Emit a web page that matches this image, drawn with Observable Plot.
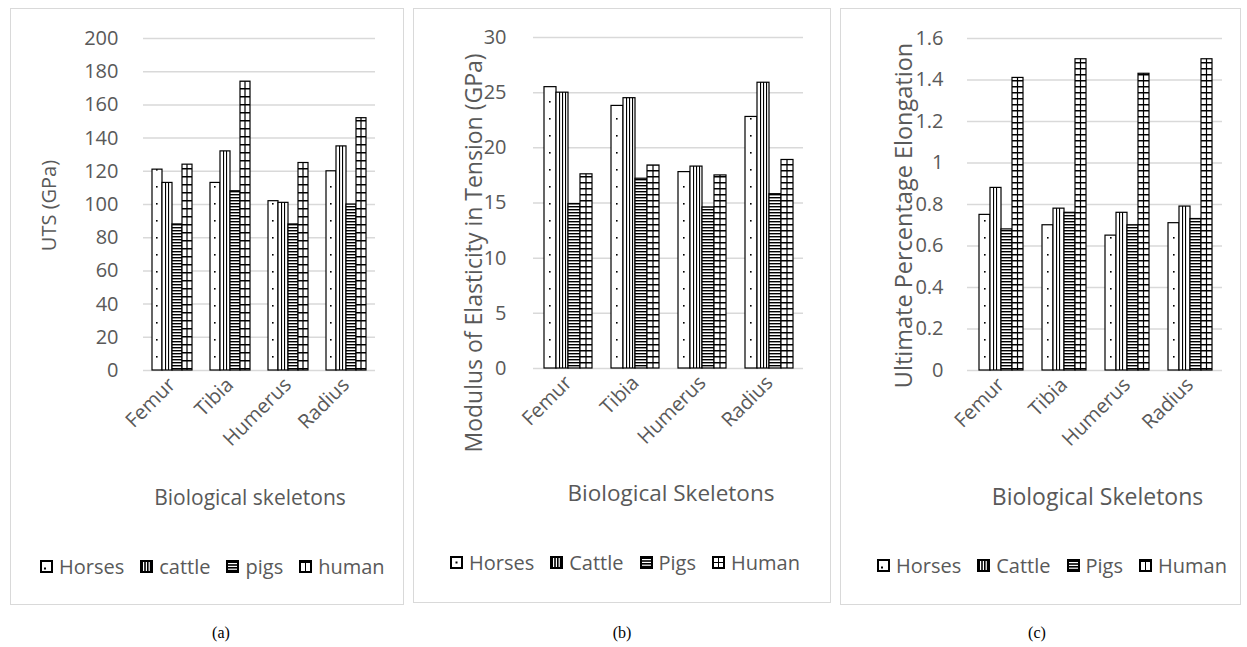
<!DOCTYPE html>
<html><head><meta charset="utf-8">
<script src="https://cdn.jsdelivr.net/npm/d3@7"></script>
<script src="https://cdn.jsdelivr.net/npm/@observablehq/plot@0.6"></script>
<style>
body{margin:0;background:#fff;}
#root{position:relative;width:1247px;height:647px;overflow:hidden;font-family:"Open Sans",sans-serif;}
.panel{position:absolute;border:1px solid #d9d9d9;box-sizing:border-box;}
.plotwrap{position:absolute;}
.legend{position:absolute;display:flex;align-items:center;font-size:20px;color:#595959;white-space:nowrap;font-family:"Open Sans",sans-serif;}
.legend .item{display:flex;align-items:center;margin-right:16px;}
.legend .item:last-child{margin-right:0;}
.legend svg{margin-right:6px;}
.cap{position:absolute;font-family:"Liberation Serif","Times New Roman",serif;font-size:16px;color:#000;transform:translateX(-50%);}
</style></head>
<body><div id="root"></div>
<script>
// ---- data ----
const bones = ["Femur", "Tibia", "Humerus", "Radius"];
const seriesKeys = ["Horses", "Cattle", "Pigs", "Human"];
const legendLabelsA = ["Horses", "cattle", "pigs", "human"];
const legendLabelsBC = ["Horses", "Cattle", "Pigs", "Human"];

const utsHorses = [121, 113, 102, 120];
const utsCattle = [113, 132, 101, 135];
const utsPigs = [88, 108, 88, 100];
const utsHuman = [124, 174, 125, 152];

const modHorses = [25.5, 23.8, 17.8, 22.8];
const modCattle = [25.0, 24.5, 18.3, 25.9];
const modPigs = [14.9, 17.2, 14.6, 15.8];
const modHuman = [17.6, 18.4, 17.5, 18.9];

const elHorses = [0.75, 0.70, 0.65, 0.71];
const elCattle = [0.88, 0.78, 0.76, 0.79];
const elPigs = [0.68, 0.76, 0.70, 0.73];
const elHuman = [1.41, 1.50, 1.43, 1.50];

const ticksA = [0, 20, 40, 60, 80, 100, 120, 140, 160, 180, 200];
const ticksB = [0, 5, 10, 15, 20, 25, 30];
const ticksC = [0, 0.2, 0.4, 0.6, 0.8, 1, 1.2, 1.4, 1.6];

const panels = [
  {id: "a", left: 10, top: 8, w: 393, h: 520, bw: 394, bh: 597, ml: 133, mr: 28, mt: 30, mb: 158, tp: 33,
   domain: [0, 200], ticks: ticksA, series: [utsHorses, utsCattle, utsPigs, utsHuman],
   ytitle: "UTS (GPa)", ytSize: 20, ytdx: -102, ytdy: 1, xtitle: "Biological skeletons", xtSize: 21, xtdx: -9, xtdy: 128,
   legend: legendLabelsA, legLeft: 40, legTop: 553, humanStyle: "cols", humanH: 8, cap: "(a)", capX: 221},
  {id: "b", left: 413, top: 8, w: 417, h: 520, bw: 418, bh: 595, ml: 120, mr: 27, mt: 29, mb: 160, tp: 38,
   domain: [0, 30], ticks: ticksB, series: [modHorses, modCattle, modPigs, modHuman],
   ytitle: "Modulus of Elasticity in Tension (GPa)", ytSize: 23, ytdx: -70, ytdy: 50, xtitle: "Biological Skeletons", xtSize: 22.5, xtdx: 2, xtdy: 125,
   legend: legendLabelsBC, legLeft: 450, legTop: 549, humanStyle: "grid", humanH: 6, cap: "(b)", capX: 622},
  {id: "c", left: 840, top: 8, w: 400, h: 520, bw: 401, bh: 597, ml: 127, mr: 18, mt: 30, mb: 158, tp: 35,
   domain: [0, 1.6], ticks: ticksC, series: [elHorses, elCattle, elPigs, elHuman],
   ytitle: "Ultimate Percentage Elongation", ytSize: 23.5, ytdx: -74, ytdy: 11, xtitle: "Biological Skeletons", xtSize: 23, xtdx: 2, xtdy: 127,
   legend: legendLabelsBC, legLeft: 877, legTop: 552, humanStyle: "cols", humanH: 6, cap: "(c)", capX: 1037}
];

const root = document.getElementById("root");

function buildPattern(defs, id, kind, x, w, p) {
  let h = kind === "Horses" ? 17 : kind === "Cattle" ? 4 : kind === "Pigs" ? 3 : p.humanH;
  const pat = defs.append("pattern").attr("id", id).attr("patternUnits", "userSpaceOnUse")
    .attr("x", x).attr("y", 0).attr("width", w).attr("height", h);
  pat.append("rect").attr("width", w).attr("height", h).attr("fill", "#fff");
  if (kind === "Horses") {
    pat.append("rect").attr("x", Math.round(w * 0.42)).attr("y", 8).attr("width", 1.6).attr("height", 1.6).attr("fill", "#000");
  } else if (kind === "Cattle") {
    for (let xx = 3; xx < w - 2; xx += 3) {
      pat.append("rect").attr("x", xx).attr("y", 0).attr("width", 1.1).attr("height", h).attr("fill", "#000");
    }
  } else if (kind === "Pigs") {
    pat.append("rect").attr("x", 0).attr("y", 0).attr("width", w).attr("height", 1.4).attr("fill", "#000");
  } else {
    pat.append("rect").attr("x", 0).attr("y", 0).attr("width", w).attr("height", 1.5).attr("fill", "#000");
    pat.append("rect").attr("x", w / 2 - 0.6).attr("y", 0).attr("width", 1.2).attr("height", h).attr("fill", "#000");
  }
}

function swatch(kind, p) {
  const s = d3.create("svg").attr("width", 13).attr("height", 13);
  if (kind === "Horses") {
    s.append("rect").attr("x", 1).attr("y", 1).attr("width", 11).attr("height", 11).attr("fill", "#fff").attr("stroke", "#000").attr("stroke-width", 2);
    if (p.id === "b") s.append("rect").attr("x", 5.5).attr("y", 5.5).attr("width", 2).attr("height", 2).attr("fill", "#000");
    else s.append("rect").attr("x", 4).attr("y", 7.5).attr("width", 2).attr("height", 2).attr("fill", "#000");
  } else if (kind === "Cattle") {
    s.append("rect").attr("x", 0).attr("y", 0).attr("width", 13).attr("height", 13).attr("fill", "#000");
    [3, 5.8, 8.6].forEach(xx => s.append("rect").attr("x", xx).attr("y", 2).attr("width", 1.2).attr("height", 9).attr("fill", "#fff"));
  } else if (kind === "Pigs") {
    s.append("rect").attr("x", 0).attr("y", 0).attr("width", 13).attr("height", 13).attr("fill", "#000");
    [3, 5.8, 8.6].forEach(yy => s.append("rect").attr("x", 2).attr("y", yy).attr("width", 9).attr("height", 1.2).attr("fill", "#fff"));
  } else {
    s.append("rect").attr("x", 0).attr("y", 0).attr("width", 13).attr("height", 13).attr("fill", "#000");
    if (p.humanStyle === "grid") {
      [[2,2],[7,2],[2,7],[7,7]].forEach(([xx,yy]) => s.append("rect").attr("x", xx).attr("y", yy).attr("width", 4).attr("height", 4).attr("fill", "#fff"));
    } else {
      [[2,3],[7,3]].forEach(([xx,yy]) => s.append("rect").attr("x", xx).attr("y", yy).attr("width", 4).attr("height", 8).attr("fill", "#fff"));
    }
  }
  return s.node();
}

panels.forEach(p => {
  const border = document.createElement("div");
  border.className = "panel";
  Object.assign(border.style, {left: p.left + "px", top: p.top + "px", width: p.bw + "px", height: p.bh + "px"});
  root.appendChild(border);

  const common = {
    width: p.w, height: p.h,
    marginLeft: p.ml, marginRight: p.mr, marginTop: p.mt, marginBottom: p.mb,
    style: {fontFamily: "Open Sans", fontSize: "20px", color: "#595959", background: "transparent", overflow: "visible"}
  };

  // gridlines (background layer, same y scale)
  const grid = Plot.plot({
    ...common,
    x: {axis: null},
    y: {domain: p.domain, axis: null},
    marks: [Plot.ruleY(p.ticks, {stroke: "#d9d9d9", strokeWidth: 1.5})]
  });

  const data = [];
  bones.forEach((b, i) => p.series.forEach((arr, j) => data.push({bone: b, series: seriesKeys[j], value: arr[i]})));
  const ids = seriesKeys.map(s => `${p.id}-${s}`);

  const chart = Plot.plot({
    ...common,
    fx: {domain: bones, paddingInner: 0.29, paddingOuter: 0.145, label: null, axis: "bottom", tickSize: 0, tickRotate: -45, tickPadding: 11},
    x: {domain: seriesKeys, padding: 0, axis: null},
    y: {domain: p.domain, ticks: p.ticks, tickFormat: d => String(d), tickSize: 0, tickPadding: p.tp, label: null},
    color: {domain: seriesKeys, range: ids.map(id => `url(#${id})`)},
    marks: [
      Plot.barY(data, {fx: "bone", x: "series", y: "value", fill: "series", stroke: "#000", strokeWidth: 1.2}),
      Plot.text([p.ytitle], {frameAnchor: "left", rotate: -90, textAnchor: "middle", lineAnchor: "middle", dx: p.ytdx, dy: p.ytdy, fontSize: p.ytSize, fill: "#595959", facet: "super"}),
      Plot.text([p.xtitle], {frameAnchor: "bottom", textAnchor: "middle", lineAnchor: "middle", dx: p.xtdx, dy: p.xtdy, fontSize: p.xtSize, fill: "#595959", facet: "super"})
    ]
  });

  const defs = d3.select(chart).insert("defs", ":first-child");
  const rects = Array.from(chart.querySelectorAll('g[aria-label="bar"] rect'));
  seriesKeys.forEach((s, j) => {
    const r = rects.find(el => (el.getAttribute("fill") || "").includes(ids[j]));
    const x = r ? +r.getAttribute("x") : 0;
    const w = r ? +r.getAttribute("width") : 10;
    buildPattern(defs, ids[j], s, x, w, p);
  });

  [grid, chart].forEach(svg => {
    const wrap = document.createElement("div");
    wrap.className = "plotwrap";
    Object.assign(wrap.style, {left: p.left + "px", top: p.top + "px"});
    wrap.appendChild(svg);
    root.appendChild(wrap);
  });

  const leg = document.createElement("div");
  leg.className = "legend";
  Object.assign(leg.style, {left: p.legLeft + "px", top: p.legTop + "px"});
  seriesKeys.forEach((s, j) => {
    const item = document.createElement("div");
    item.className = "item";
    item.appendChild(swatch(s, p));
    const t = document.createElement("span");
    t.textContent = p.legend[j];
    item.appendChild(t);
    leg.appendChild(item);
  });
  root.appendChild(leg);

  const cap = document.createElement("div");
  cap.className = "cap";
  cap.textContent = p.cap;
  Object.assign(cap.style, {left: p.capX + "px", top: "624px"});
  root.appendChild(cap);
});
</script>
</body></html>
